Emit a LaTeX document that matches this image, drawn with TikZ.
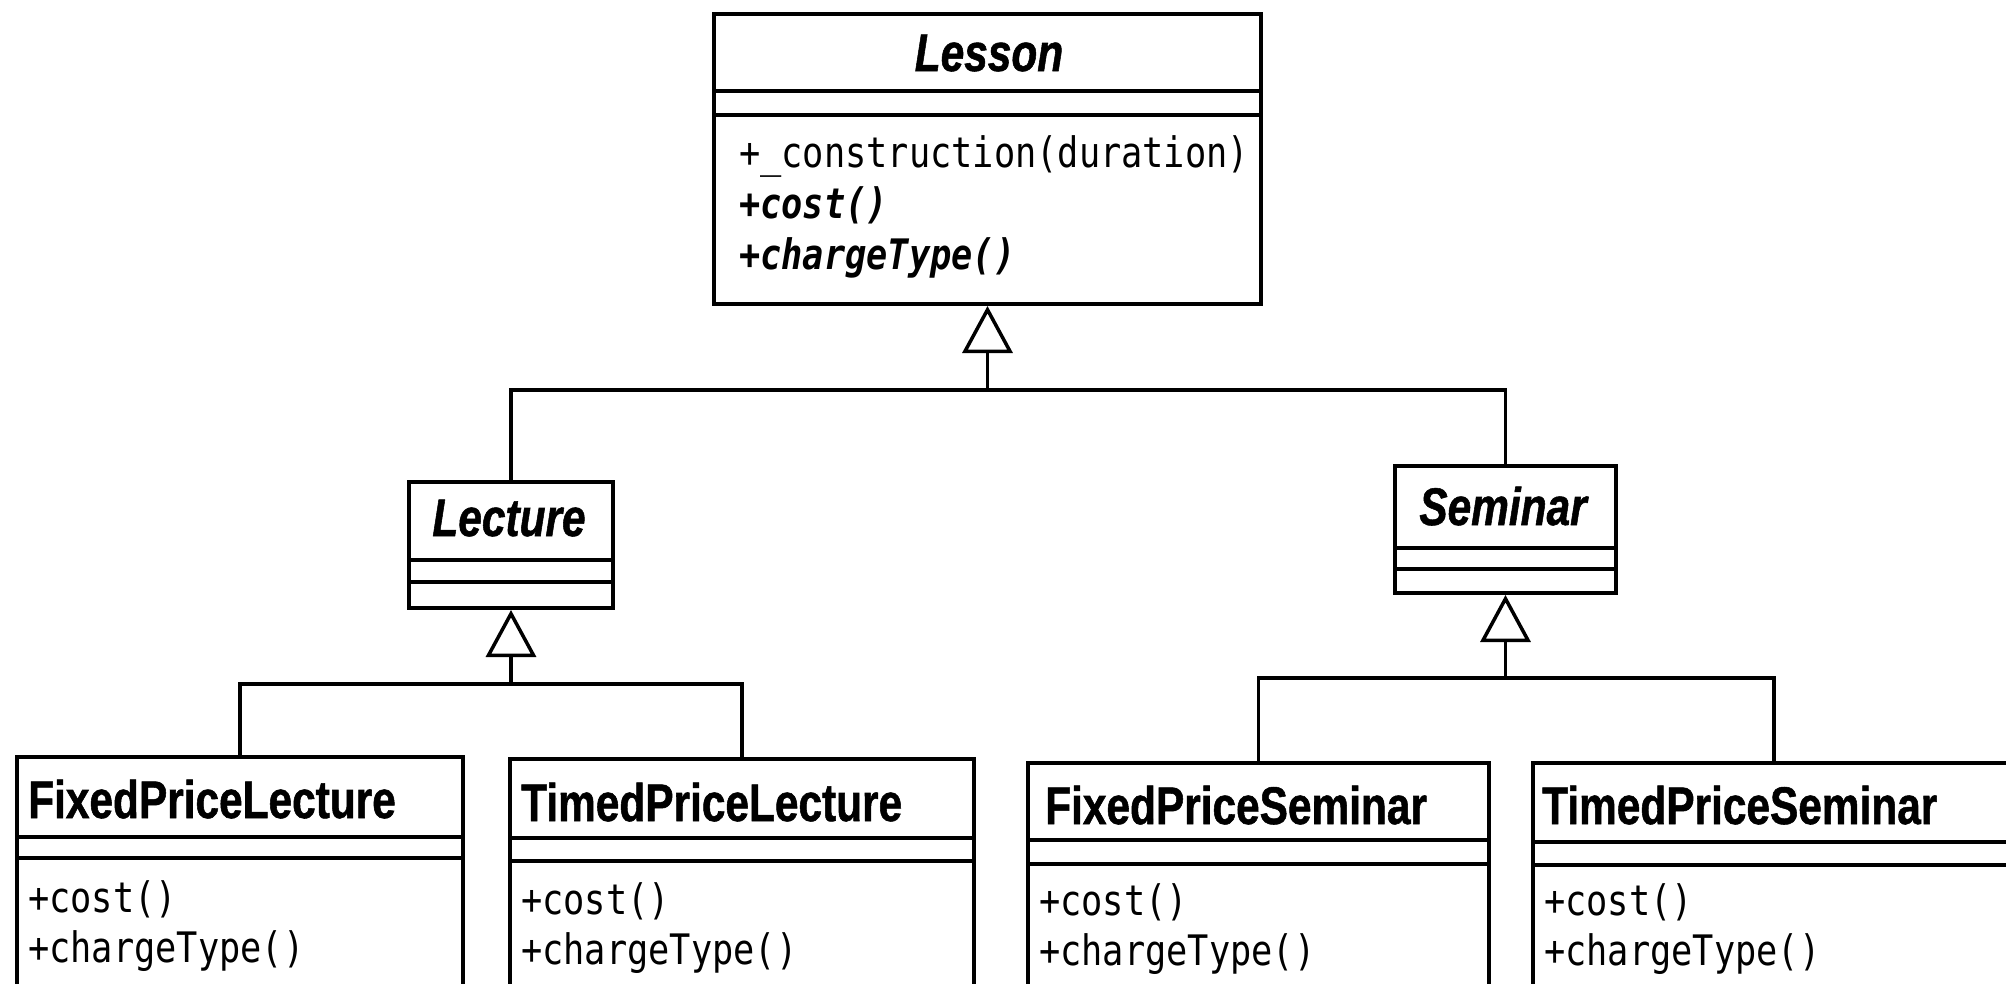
\documentclass[tikz,border=0pt]{standalone}
\usepackage{fontspec}
\usetikzlibrary{arrows.meta}
\newfontfamily\clsfont[FakeStretch=0.8,FakeBold=1]{Liberation Sans}
\newfontfamily\opfont[FakeStretch=0.84]{DejaVu Sans Mono}
\begin{document}
\begin{tikzpicture}[x=1pt,y=-1pt,
  cls/.style={draw, line width=4pt, inner sep=0pt, anchor=north west},
  sep/.style={line width=4pt},
  cname/.style={inner sep=0pt, font=\clsfont\fontsize{53}{60}\selectfont\bfseries},
  aname/.style={inner sep=0pt, anchor=base, font=\clsfont\fontsize{53}{60}\selectfont\bfseries\itshape},
  op/.style={inner sep=0pt, anchor=base west, font=\opfont\fontsize{42}{50}\selectfont},
  aop/.style={inner sep=0pt, anchor=base west, font=\opfont\fontsize{42}{50}\selectfont\bfseries\itshape},
  conn/.style={line width=3.5pt},
  inh/.style={conn, -{Triangle[open, length=47pt, width=50pt, line width=3.5pt]}}]
\useasboundingbox (0,0) rectangle (2006,983);
\fill[white] (0,0) rectangle (2006,983);
\clip (0,0) rectangle (2006,983);

% class boxes
\node[cls, minimum width=547pt, minimum height=290pt] (lesson) at (712,12) {};
\node[cls, minimum width=204pt, minimum height=126pt] (lecture) at (407,480) {};
\node[cls, minimum width=221pt, minimum height=127pt] (seminar) at (1393,464) {};
\node[cls, minimum width=446pt, minimum height=260pt] (fpl) at (15,755) {};
\node[cls, minimum width=464pt, minimum height=260pt] (tpl) at (508,757) {};
\node[cls, minimum width=461pt, minimum height=260pt] (fps) at (1026,761) {};
\node[cls, minimum width=482pt, minimum height=260pt] (tps) at (1531,761) {};

% compartment lines
\draw[sep] ([yshift=-79pt]lesson.north west) -- ([yshift=-79pt]lesson.north east);
\draw[sep] ([yshift=-103pt]lesson.north west) -- ([yshift=-103pt]lesson.north east);
\draw[sep] ([yshift=-80pt]lecture.north west) -- ([yshift=-80pt]lecture.north east);
\draw[sep] ([yshift=-102pt]lecture.north west) -- ([yshift=-102pt]lecture.north east);
\draw[sep] ([yshift=-84pt]seminar.north west) -- ([yshift=-84pt]seminar.north east);
\draw[sep] ([yshift=-105pt]seminar.north west) -- ([yshift=-105pt]seminar.north east);
\draw[sep] ([yshift=-82pt]fpl.north west) -- ([yshift=-82pt]fpl.north east);
\draw[sep] ([yshift=-103pt]fpl.north west) -- ([yshift=-103pt]fpl.north east);
\draw[sep] ([yshift=-81pt]tpl.north west) -- ([yshift=-81pt]tpl.north east);
\draw[sep] ([yshift=-104pt]tpl.north west) -- ([yshift=-104pt]tpl.north east);
\draw[sep] ([yshift=-79pt]fps.north west) -- ([yshift=-79pt]fps.north east);
\draw[sep] ([yshift=-103pt]fps.north west) -- ([yshift=-103pt]fps.north east);
\draw[sep] ([yshift=-81pt]tps.north west) -- ([yshift=-81pt]tps.north east);
\draw[sep] ([yshift=-104pt]tps.north west) -- ([yshift=-104pt]tps.north east);

% class names
\node[aname] (lessonname) at (989,71) {Lesson};
\node[aname] (lecturename) at (509,536) {Lecture};
\node[aname] (seminarname) at (1503,525) {Seminar};
\node[cname, anchor=base west] (fplname) at (28,818) {FixedPriceLecture};
\node[cname, anchor=base west] (tplname) at (521,821) {TimedPriceLecture};
\node[cname, anchor=base west] (fpsname) at (1045,824) {FixedPriceSeminar};
\node[cname, anchor=base west] (tpsname) at (1542,824) {TimedPriceSeminar};

% operations
\node[op] (lop1) at (739,167) {+\_construction(duration)};
\node[aop] (lop2) at (739,218) {+cost()};
\node[aop] (lop3) at (739,269) {+chargeType()};
\node[op] (fplop1) at (28,912) {+cost()};
\node[op] (fplop2) at (28,962) {+chargeType()};
\node[op] (tplop1) at (521,914) {+cost()};
\node[op] (tplop2) at (521,964) {+chargeType()};
\node[op] (fpsop1) at (1039,915) {+cost()};
\node[op] (fpsop2) at (1039,965) {+chargeType()};
\node[op] (tpsop1) at (1544,915) {+cost()};
\node[op] (tpsop2) at (1544,965) {+chargeType()};

% generalisations
\coordinate (j1) at (lesson.south |- 0,390);
\draw[conn] (lecture.north) |- (j1) -| (seminar.north);
\draw[inh] (j1) -- (lesson.south);
\coordinate (j2) at (lecture.south |- 0,684);
\draw[conn] (fpl.north) |- (j2) -| (tpl.north);
\draw[inh] (j2) -- (lecture.south);
\coordinate (j3) at (seminar.south |- 0,678);
\draw[conn] (fps.north) |- (j3) -| (tps.north);
\draw[inh] (j3) -- (seminar.south);
\end{tikzpicture}
\end{document}
